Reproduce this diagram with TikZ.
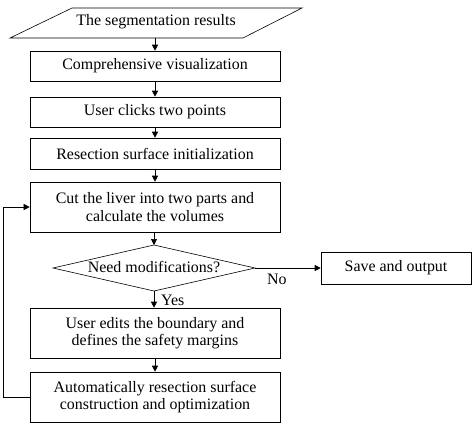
\documentclass[tikz,border=0pt]{standalone}
\usepackage{fontspec}
\setmainfont{Liberation Serif}
\usetikzlibrary{arrows.meta}
\begin{document}
\begin{tikzpicture}[x=1bp,y=-1bp,
  txt/.style={font=\fontsize{16}{17.5}\selectfont},
  box/.style={draw,line width=0.6bp,minimum width=250bp,inner sep=0pt,align=center,txt},
  arr/.style={-{Triangle[length=6bp,width=6bp]},line width=0.6bp},
  lbl/.style={txt,inner sep=0pt}]
\useasboundingbox (0,0) rectangle (472,423);
% parallelogram
\draw[line width=0.6bp] (72,8) -- (302,8) -- (243,38) -- (10,38) -- cycle;
\node[lbl,minimum width=160bp,minimum height=30bp] (seg) at (156,22) {The segmentation results};
\node[box,minimum height=30bp] (vis) at (155,66) {Comprehensive visualization};
\node[box,minimum height=30bp] (clk) at (155,112) {User clicks two points};
\node[box,minimum height=31bp] (ini) at (155,153.5) {Resection surface initialization};
\node[box,minimum height=50bp] (cut) at (155,207) {Cut the liver into two parts and\\calculate the volumes};
% diamond
\coordinate (mN) at (154,245);
\coordinate (mE) at (255,268);
\coordinate (mS) at (154,291);
\coordinate (mW) at (53,268);
\draw[line width=0.6bp] (mN) -- (mE) -- (mS) -- (mW) -- cycle;
\node[lbl] (mod) at (154,267) {Need modifications?};
\node[draw,line width=0.6bp,minimum width=150bp,minimum height=32bp,inner sep=0pt,txt] (sav) at (396,268) {Save and output};
\node[box,minimum height=50bp] (edt) at (155,333) {User edits the boundary and\\defines the safety margins};
\node[box,minimum height=50bp] (aut) at (155,397) {Automatically resection surface\\construction and optimization};
\coordinate (segb) at (155,38);
\draw[arr] (segb) -- (vis);
\draw[arr] (vis) -- (clk);
\draw[arr] (clk) -- (ini);
\draw[arr] (ini) -- (cut);
\draw[arr] (cut.south -| mN) -- (mN);
\draw[arr] (mE) -- (sav.west);
\draw[arr] (mS) -- (edt.north -| mS);
\draw[arr] (edt) -- (aut);
\coordinate (fb1) at (3.5,397);
\coordinate (fb2) at (3.5,207);
\draw[arr] (aut.west) -- (fb1) -- (fb2) -- (cut.west);
\node[lbl,anchor=west] (no) at (267,279) {No};
\node[lbl,anchor=west] (yes) at (161,300) {Yes};
\end{tikzpicture}
\end{document}
